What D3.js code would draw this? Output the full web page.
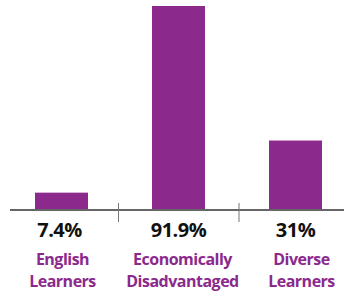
<!DOCTYPE html>
<html>
<head>
<meta charset="utf-8">
<script src="https://cdn.jsdelivr.net/npm/d3@7"></script>
<style>
  body { margin: 0; background: #fff; }
</style>
</head>
<body>
<div class="chart"></div>
<script>
// data
const categories = ["English Learners", "Economically Disadvantaged", "Diverse Learners"];
const labelLines = [["English", "Learners"], ["Economically", "Disadvantaged"], ["Diverse", "Learners"]];
const values = [7.4, 91.9, 31];
const valueLabels = ["7.4%", "91.9%", "31%"];

const width = 344, height = 295;
const baseY = 209;
const purple = "#8b2a8c";
// the category labels sit a little right of the bar centres
const labelNudge = [1, 4, 6];

const svg = d3.select(".chart").append("svg")
    .attr("width", width)
    .attr("height", height);

// scales
const x = d3.scaleBand()
    .domain(categories)
    .range([3, 354])
    .paddingInner(0.547)
    .paddingOuter(0.2735);

const y = d3.scaleLinear()
    .domain([0, 91.9])
    .range([baseY, 6]);

const cx = i => x(categories[i]) + x.bandwidth() / 2;

// bars
svg.append("g").selectAll("rect")
    .data(values)
    .enter()
    .append("rect")
        .attr("x", (d, i) => x(categories[i]))
        .attr("y", d => y(d))
        .attr("width", x.bandwidth())
        .attr("height", d => baseY - y(d))
        .attr("fill", purple);

// axis line
svg.append("line")
    .attr("x1", 10).attr("x2", width)
    .attr("y1", baseY + 1).attr("y2", baseY + 1)
    .attr("stroke", "#666")
    .attr("stroke-width", 2);

// separators between categories
const gap = x.step() * x.paddingInner();
svg.append("g").selectAll("line")
    .data(categories.slice(1))
    .enter()
    .append("line")
        .attr("x1", (d, i) => x(d) - gap / 2 + (i ? 2 : -1.5))
        .attr("x2", (d, i) => x(d) - gap / 2 + (i ? 2 : -1.5))
        .attr("y1", baseY - 6)
        .attr("y2", baseY + 13)
        .attr("stroke", "#777")
        .attr("stroke-width", 1);

// value labels
svg.append("g").selectAll("text")
    .data(valueLabels)
    .enter()
    .append("text")
        .attr("x", (d, i) => cx(i) - (i === 0 ? 2 : 0))
        .attr("y", 237)
        .attr("text-anchor", "middle")
        .style("font-family", "'Open Sans', sans-serif")
        .style("font-weight", "700")
        .style("font-size", "20px")
        .style("letter-spacing", "-0.5px")
        .attr("fill", "#111")
        .text(d => d);

// category labels
const cat = svg.append("g").selectAll("text")
    .data(labelLines)
    .enter()
    .append("text")
        .attr("text-anchor", "middle")
        .style("font-family", "'Open Sans', sans-serif")
        .style("font-weight", "700")
        .style("font-size", "16px")
        .style("letter-spacing", "-0.5px")
        .attr("fill", purple);

cat.selectAll("tspan")
    .data((d, i) => d.map(t => ({ t, i })))
    .enter()
    .append("tspan")
        .attr("x", d => cx(d.i) + labelNudge[d.i])
        .attr("y", (d, j) => 265 + j * 22)
        .text(d => d.t);
</script>
</body>
</html>
